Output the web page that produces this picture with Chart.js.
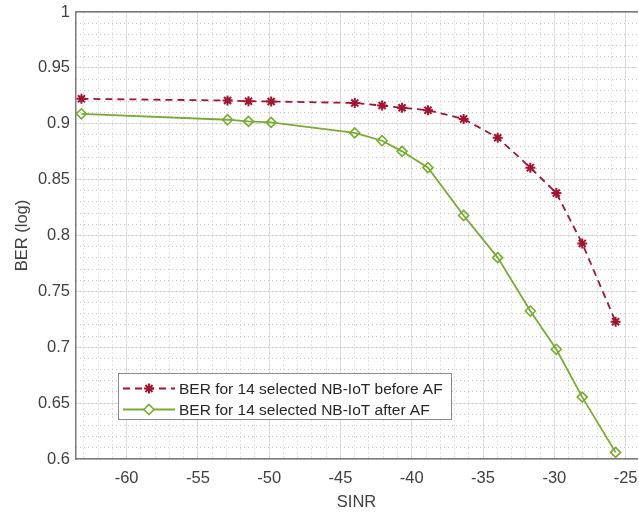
<!DOCTYPE html>
<html>
<head>
<meta charset="utf-8">
<style>
  html, body { margin: 0; padding: 0; background: #fff; overflow: hidden; }
  /* the canvas is a little wider than the figure; the wrapper clips it so the axes run to the edge */
  #wrap { width: 639px; height: 514px; overflow: hidden; position: relative; }
  #berChart { position: absolute; left: 0; top: 0; }
</style>
</head>
<body>
<div id="wrap"><canvas id="berChart" width="644" height="514"></canvas></div>

<script src="https://cdn.jsdelivr.net/npm/chart.js"></script>
<script>
// SINR values (same for both curves)
const sinr = [-63.17, -52.92, -51.45, -49.86, -44.0, -42.08, -40.68, -38.86, -36.36, -33.97, -31.68, -29.86, -28.04, -25.7];
const berBefore = [0.9223, 0.9208, 0.9202, 0.9199, 0.9186, 0.9163, 0.9143, 0.9121, 0.9043, 0.8875, 0.8607, 0.8380, 0.7929, 0.7229];
const berAfter = [0.9089, 0.9036, 0.9021, 0.9012, 0.8918, 0.8848, 0.8753, 0.8607, 0.8179, 0.7802, 0.7324, 0.6982, 0.6554, 0.6059];
const seriesNames = ['BER for 14 selected NB-IoT before AF', 'BER for 14 selected NB-IoT after AF'];

const red = '#A2142F';
const green = '#77AC30';
const textCol = '#404040';
const fontFam = '"Liberation Sans", Arial, Helvetica, sans-serif';

function pts(ys) {
  return sinr.map((x, i) => ({ x: x, y: ys[i] }));
}

// scales must not ask for extra padding round the plot
function noPad(s) {
  s.paddingLeft = 0; s.paddingRight = 0; s.paddingTop = 0; s.paddingBottom = 0;
  s.getPadding = () => ({ left: 0, top: 0, right: 0, bottom: 0 });
}

// legend box drawn inside the axes, like the matlab one
const boxLegend = {
  id: 'boxLegend',
  afterDraw(chart) {
    const ctx = chart.ctx;
    const area = chart.chartArea;
    const x0 = area.left + 42, y0 = 373, w = 333, h = 46;
    ctx.save();
    ctx.fillStyle = '#fff';
    ctx.fillRect(x0, y0, w, h);
    ctx.strokeStyle = '#8c8c8c';
    ctx.lineWidth = 1;
    ctx.strokeRect(x0 + 0.5, y0 + 0.5, w, h);
    ctx.font = '15.5px ' + fontFam;
    ctx.textBaseline = 'middle';
    chart.data.datasets.forEach((ds, i) => {
      const cy = y0 + 15.5 + i * 21;
      ctx.strokeStyle = ds.borderColor;
      ctx.lineWidth = ds.borderWidth;
      ctx.setLineDash(ds.borderDash || []);
      ctx.beginPath();
      ctx.moveTo(x0 + 5, cy);
      ctx.lineTo(x0 + 57, cy);
      ctx.stroke();
      ctx.setLineDash([]);
      ctx.fillStyle = '#fff';
      ctx.strokeStyle = ds.pointBorderColor;
      ctx.lineWidth = ds.pointBorderWidth;
      Chart.helpers.drawPoint(ctx, { pointStyle: ds.pointStyle, radius: ds.pointRadius, rotation: 0, borderWidth: ds.pointBorderWidth }, x0 + 31, cy);
      ctx.fillStyle = '#262626';
      ctx.fillText(ds.label, x0 + 61, cy + 1);
    });
    ctx.restore();
  }
};

const ctx = document.getElementById('berChart').getContext('2d');
new Chart(ctx, {
  type: 'line',
  data: {
    datasets: [{
      label: seriesNames[0],
      data: pts(berBefore),
      borderColor: red,
      borderWidth: 1.8,
      borderDash: [7, 5],
      pointStyle: 'star',
      pointRadius: 5,
      pointBorderColor: red,
      pointBorderWidth: 2,
      pointBackgroundColor: red,
      fill: false,
      tension: 0
    }, {
      label: seriesNames[1],
      data: pts(berAfter),
      borderColor: green,
      borderWidth: 1.8,
      pointStyle: 'rectRot',
      pointRadius: 5,
      pointBorderColor: green,
      pointBorderWidth: 1.6,
      pointBackgroundColor: 'rgba(255,255,255,0)',
      fill: false,
      tension: 0
    }]
  },
  options: {
    responsive: false,
    animation: false,
    layout: { padding: { top: 12, right: 0, left: 0, bottom: 0 } },
    plugins: {
      legend: { display: false },
      tooltip: { enabled: false }
    },
    scales: {
      x: {
        type: 'linear',
        position: 'bottom',
        min: -63.55,
        max: -24.2,
        z: 0,
        afterFit: s => { s.height = 55; noPad(s); },
        ticks: {
          stepSize: 5,
          includeBounds: false,
          padding: 10,
          color: textCol,
          font: { family: fontFam, size: 16.5 },
          callback: v => String(v)
        },
        grid: { color: '#e3e3e3', lineWidth: 1, drawTicks: false },
        border: { display: true, color: '#7a7a7a', width: 1.5 },
        title: {
          display: true,
          text: 'SINR',
          color: textCol,
          font: { family: fontFam, size: 16.5 },
          padding: { top: 0, bottom: 2 }
        }
      },
      y: {
        type: 'linear',
        position: 'left',
        min: 0.6,
        max: 1,
        z: 0,
        afterFit: s => { s.width = 76; noPad(s); },
        ticks: {
          stepSize: 0.05,
          padding: 6,
          color: textCol,
          font: { family: fontFam, size: 16.5 },
          callback: v => String(Math.round(v * 100) / 100)
        },
        grid: { color: '#e3e3e3', lineWidth: 1, drawTicks: false },
        border: { display: true, color: '#7a7a7a', width: 1.5 },
        title: {
          display: true,
          text: 'BER (log)',
          color: textCol,
          font: { family: fontFam, size: 16.5 },
          padding: { top: 13, bottom: 0 }
        }
      },
      xm: {
        type: 'linear',
        position: 'top',
        min: -63.55,
        max: -24.2,
        z: -1,
        afterFit: s => { s.height = 0; noPad(s); },
        ticks: { display: false, stepSize: 1, includeBounds: false },
        grid: { color: '#c4c4c4', lineWidth: 1, drawTicks: false },
        border: { display: true, color: '#7a7a7a', width: 1.5, dash: [1, 3] }
      },
      ym: {
        type: 'linear',
        position: 'right',
        min: 0.6,
        max: 1,
        z: -1,
        afterFit: s => { s.width = 0; noPad(s); },
        ticks: { display: false, stepSize: 0.01 },
        grid: { color: '#c4c4c4', lineWidth: 1, drawTicks: false },
        border: { display: false, dash: [1, 3] }
      }
    }
  },
  plugins: [boxLegend]
});
</script>
</body>
</html>
